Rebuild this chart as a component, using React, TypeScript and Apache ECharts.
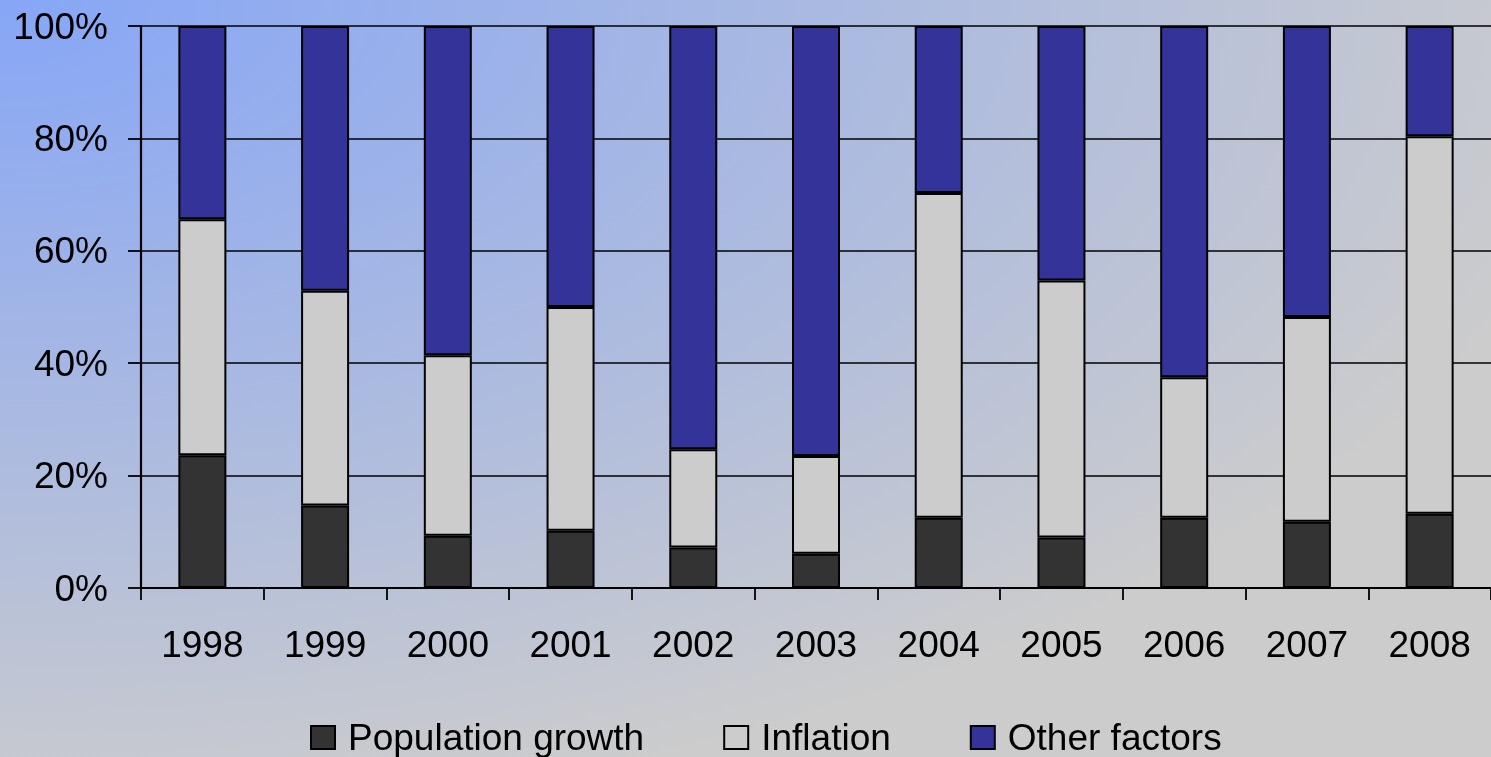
import React, { useEffect, useRef } from "react";
import * as echarts from "echarts";

const years = ["1998", "1999", "2000", "2001", "2002", "2003", "2004", "2005", "2006", "2007", "2008"];
const populationGrowth = [23.6, 14.7, 9.3, 10.2, 7.2, 6.1, 12.5, 9.0, 12.5, 11.8, 13.2];
const inflation = [42.0, 38.2, 32.1, 39.8, 17.5, 17.4, 57.8, 45.7, 25.0, 36.4, 67.2];
const otherFactors = [34.4, 47.1, 58.6, 50.0, 75.3, 76.5, 29.7, 45.3, 62.5, 51.8, 19.6];
const seriesNames = ["Population growth", "Inflation", "Other factors"];
const seriesColors = ["#333333", "#cccccc", "#333399"];

const FONT = "'Liberation Sans', Arial, sans-serif";

export default function App() {
  const ref = useRef<HTMLDivElement>(null);

  useEffect(() => {
    if (!ref.current) return;
    const chart = echarts.init(ref.current, undefined, { renderer: "svg" });
    const values = [populationGrowth, inflation, otherFactors];
    chart.setOption({
      animation: false,
      backgroundColor: "transparent",
      textStyle: { fontFamily: FONT },
      grid: { left: 141, top: 26, bottom: 169, right: -2, containLabel: false },
      legend: {
        left: 310,
        top: 719,
        padding: 0,
        itemWidth: 24,
        itemHeight: 23,
        itemGap: 79,
        icon: "rect",
        data: seriesNames,
        textStyle: { fontSize: 37, color: "#000", fontFamily: FONT, lineHeight: 37, padding: [0, 0, 0, 8] },
      },
      xAxis: {
        type: "category",
        data: years,
        boundaryGap: true,
        axisLine: { show: true, lineStyle: { color: "#000", width: 2.2 } },
        axisTick: { show: true, length: 12, interval: 0, lineStyle: { color: "#000", width: 1.8 } },
        axisLabel: { fontSize: 37, color: "#000", margin: 38, lineHeight: 37, fontFamily: FONT, interval: 0 },
        splitLine: { show: false },
      },
      yAxis: {
        type: "value",
        min: 0,
        max: 100,
        interval: 20,
        axisLine: { show: true, lineStyle: { color: "#000", width: 2.2 } },
        axisTick: { show: true, length: 13, lineStyle: { color: "#000", width: 1.8 } },
        axisLabel: { fontSize: 37, color: "#000", margin: 33, formatter: "{value}%", fontFamily: FONT },
        splitLine: { show: true, lineStyle: { color: "#000", width: 1.6 } },
      },
      series: seriesNames.map((name, i) => ({
        name,
        type: "bar",
        stack: "total",
        barWidth: 48,
        data: values[i],
        itemStyle: { color: seriesColors[i], borderColor: "#000", borderWidth: 2 },
      })),
    });
    return () => chart.dispose();
  }, []);

  return (
    <div
      ref={ref}
      style={{
        position: "fixed",
        left: 0,
        top: 0,
        width: 1491,
        height: 757,
        overflow: "hidden",
        background: "radial-gradient(ellipse 110% 110% at 0 0, #86a6f6 0%, #cccccc 100%)",
      }}
    />
  );
}
